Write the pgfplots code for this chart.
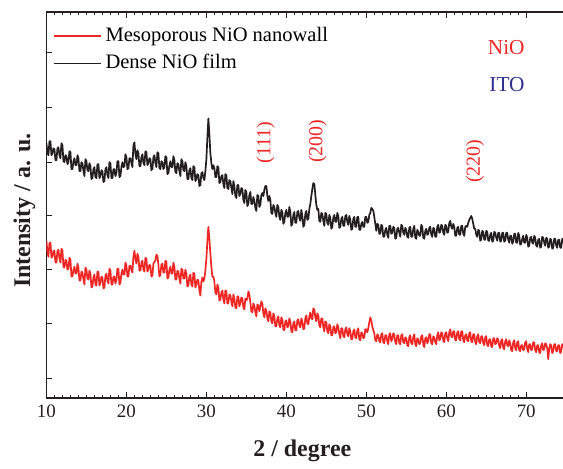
\documentclass[border=0pt]{standalone}
\usepackage{fontspec}
\setmainfont{Liberation Serif}
\usepackage{pgfplots}
\pgfplotsset{compat=1.18}

\definecolor{nioRed}{HTML}{ED2824}
\definecolor{inkBlack}{HTML}{231F20}
\definecolor{itoBlue}{HTML}{2E3192}

\begin{document}
\begin{tikzpicture}
\begin{axis}[
    scale only axis,
    width=264.6pt, height=193.5pt,
    xmin=10, xmax=76,
    ymin=0, ymax=388,
    xtick={10,20,...,70},
    minor x tick num=9,
    ytick={20,75,129,183,237,292,347},
    yticklabels={},
    ytick pos=left,
    tick align=inside,
    major tick length=3pt,
    minor tick length=1.6pt,
    every tick/.style={inkBlack, line width=0.5pt},
    axis line style={inkBlack, line width=0.6pt},
    /pgf/number format/assume math mode=true,
    ticklabel style={font=\fontsize{9.5}{11}\selectfont, text=inkBlack},
    xlabel={2 / degree},
    ylabel={Intensity / a. u.},
    label style={font=\fontsize{12}{14}\selectfont\bfseries, text=inkBlack},
    xlabel style={at={(axis cs:42,0)}, anchor=center, yshift=-26.5pt},
    ylabel style={at={(axis description cs:0,0.485)}, anchor=center, yshift=11pt},
    legend style={draw=none, fill=none, at={(axis cs:10.55,379)}, anchor=north west,
        font=\fontsize{10.3}{12.4}\selectfont, row sep=1pt, inner sep=1pt},
    legend cell align=left,
    legend image code/.code={\draw[#1, line width=0.7pt] (0pt,0pt) -- (23.5pt,0pt);},
]
% mesoporous NiO nanowall
\addplot[color=nioRed, line width=0.85pt, line join=round] coordinates {
(10.00,158)(10.125,146)(10.25,142)(10.375,156)(10.50,156)(10.625,141)(10.75,142)(10.875,148)
(11.00,148)(11.125,136)(11.25,136)(11.375,148)(11.50,149)(11.625,140)(11.75,136)(11.875,150)
(12.00,148)(12.125,132)(12.25,131)(12.375,139)(12.50,138)(12.625,129)(12.75,130)(12.875,141)
(13.00,139)(13.125,122)(13.25,122)(13.375,129)(13.50,132)(13.625,125)(13.75,125)(13.875,135)
(14.00,131)(14.125,118)(14.25,118)(14.375,127)(14.50,126)(14.625,119)(14.75,114)(14.875,131)
(15.00,129)(15.125,120)(15.25,119)(15.375,128)(15.50,125)(15.625,111)(15.75,112)(15.875,121)
(16.00,124)(16.125,114)(16.25,113)(16.375,127)(16.50,127)(16.625,113)(16.75,116)(16.875,122)
(17.00,121)(17.125,110)(17.25,111)(17.375,123)(17.50,125)(17.625,118)(17.75,115)(17.875,130)
(18.00,128)(18.125,114)(18.25,114)(18.375,122)(18.50,122)(18.625,115)(18.75,118)(18.875,130)
(19.00,130)(19.125,114)(19.25,116)(19.375,125)(19.50,129)(19.625,124)(19.75,124)(19.875,136)
(20.00,133)(20.125,122)(20.25,122)(20.375,133)(20.50,133)(20.625,129)(20.75,126)(20.875,142)
(21.00,148)(21.125,140)(21.25,135)(21.375,145)(21.50,142)(21.625,128)(21.75,128)(21.875,136)
(22.00,138)(22.125,129)(22.25,127)(22.375,141)(22.50,140)(22.625,127)(22.75,129)(22.875,134)
(23.00,133)(23.125,122)(23.25,123)(23.375,135)(23.50,137)(23.625,138)(23.75,144)(23.875,143)
(24.00,134)(24.125,122)(24.25,124)(24.375,134)(24.50,135)(24.625,126)(24.75,126)(24.875,138)
(25.00,137)(25.125,120)(25.25,121)(25.375,129)(25.50,132)(25.625,125)(25.75,125)(25.875,136)
(26.00,132)(26.125,119)(26.25,119)(26.375,128)(26.50,127)(26.625,120)(26.75,115)(26.875,130)
(27.00,129)(27.125,120)(27.25,120)(27.375,129)(27.50,125)(27.625,112)(27.75,113)(27.875,122)
(28.00,124)(28.125,114)(28.25,112)(28.375,126)(28.50,125)(28.625,111)(28.75,114)(28.875,119)
(29.00,118)(29.125,108)(29.25,103)(29.375,117)(29.50,121)(29.625,117)(29.75,120)(29.875,128)
(30.00,140)(30.125,158)(30.25,172)(30.375,160)(30.50,145)(30.625,132)(30.75,122)(30.875,122)
(31.00,117)(31.125,106)(31.25,104)(31.375,114)(31.50,111)(31.625,98)(31.75,99)(31.875,106)
(32.00,108)(32.125,99)(32.25,95)(32.375,108)(32.50,107)(32.625,95)(32.75,95)(32.875,104)
(33.00,103)(33.125,97)(33.25,92)(33.375,104)(33.50,100)(33.625,91)(33.75,90)(33.875,102)
(34.00,102)(34.125,92)(34.25,95)(34.375,101)(34.50,100)(34.625,91)(34.75,89)(34.875,100)
(35.00,98)(35.125,100)(35.25,107)(35.375,104)(35.50,96)(35.625,87)(35.75,86)(35.875,95)
(36.00,93)(36.125,86)(36.25,82)(36.375,94)(36.50,93)(36.625,87)(36.75,92)(36.875,97)
(37.00,95)(37.125,85)(37.25,81)(37.375,90)(37.50,88)(37.625,80)(37.75,77)(37.875,87)
(38.00,86)(38.125,77)(38.25,75)(38.375,85)(38.50,82)(38.625,72)(38.75,72)(38.875,80)
(39.00,82)(39.125,73)(39.25,71)(39.375,81)(39.50,79)(39.625,69)(39.75,68)(39.875,77)
(40.00,78)(40.125,71)(40.25,72)(40.375,80)(40.50,77)(40.625,67)(40.75,66)(40.875,75)
(41.00,77)(41.125,68)(41.25,68)(41.375,78)(41.50,79)(41.625,73)(41.75,71)(41.875,80)
(42.00,77)(42.125,69)(42.25,70)(42.375,80)(42.50,83)(42.625,75)(42.75,74)(42.875,82)
(43.00,86)(43.125,80)(43.25,79)(43.375,90)(43.50,89)(43.625,81)(43.75,77)(43.875,85)
(44.00,83)(44.125,73)(44.25,71)(44.375,80)(44.50,80)(44.625,71)(44.75,67)(44.875,77)
(45.00,76)(45.125,67)(45.25,65)(45.375,74)(45.50,72)(45.625,63)(45.75,63)(45.875,71)
(46.00,72)(46.125,65)(46.25,66)(46.375,74)(46.50,71)(46.625,64)(46.75,60)(46.875,70)
(47.00,70)(47.125,62)(47.25,61)(47.375,69)(47.50,71)(47.625,64)(47.75,62)(47.875,70)
(48.00,67)(48.125,59)(48.25,59)(48.375,67)(48.50,69)(48.625,61)(48.75,60)(48.875,68)
(49.00,70)(49.125,59)(49.25,58)(49.375,66)(49.50,65)(49.625,60)(49.75,61)(49.875,69)
(50.00,69)(50.125,66)(50.25,70)(50.375,76)(50.50,81)(50.625,78)(50.75,72)(50.875,68)
(51.00,65)(51.125,58)(51.25,57)(51.375,64)(51.50,63)(51.625,57)(51.75,56)(51.875,64)
(52.00,65)(52.125,56)(52.25,55)(52.375,63)(52.50,63)(52.625,57)(52.75,54)(52.875,64)
(53.00,65)(53.125,57)(53.25,59)(53.375,65)(53.50,64)(53.625,56)(53.75,54)(53.875,63)
(54.00,63)(54.125,55)(54.25,54)(54.375,63)(54.50,64)(54.625,56)(54.75,55)(54.875,61)
(55.00,60)(55.125,53)(55.25,52)(55.375,61)(55.50,63)(55.625,55)(55.75,54)(55.875,61)
(56.00,64)(56.125,54)(56.25,52)(56.375,60)(56.50,59)(56.625,54)(56.75,55)(56.875,62)
(57.00,63)(57.125,54)(57.25,51)(57.375,60)(57.50,61)(57.625,55)(57.75,57)(57.875,64)
(58.00,64)(58.125,55)(58.25,54)(58.375,62)(58.50,61)(58.625,56)(58.75,54)(58.875,63)
(59.00,66)(59.125,58)(59.25,59)(59.375,66)(59.50,65)(59.625,58)(59.75,56)(59.875,65)
(60.00,66)(60.125,60)(60.25,57)(60.375,66)(60.50,69)(60.625,62)(60.75,61)(60.875,67)
(61.00,67)(61.125,58)(61.25,58)(61.375,66)(61.50,67)(61.625,59)(61.75,58)(61.875,67)
(62.00,67)(62.125,58)(62.25,56)(62.375,63)(62.50,64)(62.625,58)(62.75,57)(62.875,65)
(63.00,66)(63.125,57)(63.25,56)(63.375,64)(63.50,64)(63.625,56)(63.75,54)(63.875,62)
(64.00,64)(64.125,56)(64.25,55)(64.375,62)(64.50,62)(64.625,55)(64.75,53)(64.875,61)
(65.00,62)(65.125,53)(65.25,52)(65.375,59)(65.50,59)(65.625,52)(65.75,51)(65.875,60)
(66.00,60)(66.125,54)(66.25,55)(66.375,60)(66.50,59)(66.625,52)(66.75,50)(66.875,58)
(67.00,59)(67.125,50)(67.25,49)(67.375,57)(67.50,59)(67.625,53)(67.75,52)(67.875,58)
(68.00,55)(68.125,48)(68.25,47)(68.375,56)(68.50,58)(68.625,50)(68.75,48)(68.875,56)
(69.00,57)(69.125,48)(69.25,47)(69.375,53)(69.50,53)(69.625,48)(69.75,49)(69.875,56)
(70.00,57)(70.125,49)(70.25,46)(70.375,54)(70.50,54)(70.625,48)(70.75,49)(70.875,56)
(71.00,56)(71.125,48)(71.25,46)(71.375,53)(71.50,53)(71.625,46)(71.75,45)(71.875,53)
(72.00,55)(72.125,48)(72.25,49)(72.375,55)(72.50,54)(72.625,50)(72.75,39)(72.875,49)
(73.00,54)(73.125,53)(73.25,45)(73.375,47)(73.50,54)(73.625,54)(73.75,47)(73.875,47)
(74.00,53)(74.125,53)(74.25,45)(74.375,47)(74.50,54)(74.625,54)(74.75,48)
};
\addlegendentry{Mesoporous NiO nanowall}
% dense NiO film
\addplot[color=inkBlack, line width=0.85pt, line join=round] coordinates {
(10.00,256)(10.125,246)(10.25,244)(10.375,258)(10.50,258)(10.625,244)(10.75,246)(10.875,251)
(11.00,250)(11.125,239)(11.25,239)(11.375,251)(11.50,252)(11.625,244)(11.75,241)(11.875,256)
(12.00,254)(12.125,238)(12.25,237)(12.375,244)(12.50,243)(12.625,235)(12.75,237)(12.875,248)
(13.00,247)(13.125,230)(13.25,230)(13.375,238)(13.50,241)(13.625,234)(13.75,234)(13.875,244)
(14.00,241)(14.125,228)(14.25,228)(14.375,237)(14.50,236)(14.625,228)(14.75,223)(14.875,240)
(15.00,238)(15.125,229)(15.25,228)(15.375,236)(15.50,233)(15.625,220)(15.75,221)(15.875,230)
(16.00,232)(16.125,222)(16.25,221)(16.375,235)(16.50,235)(16.625,221)(16.75,223)(16.875,229)
(17.00,228)(17.125,217)(17.25,218)(17.375,230)(17.50,232)(17.625,224)(17.75,221)(17.875,237)
(18.00,236)(18.125,221)(18.25,221)(18.375,230)(18.50,230)(18.625,223)(18.75,226)(18.875,238)
(19.00,238)(19.125,222)(19.25,223)(19.375,232)(19.50,237)(19.625,232)(19.75,233)(19.875,245)
(20.00,242)(20.125,230)(20.25,231)(20.375,241)(20.50,241)(20.625,236)(20.75,232)(20.875,254)
(21.00,257)(21.125,245)(21.25,240)(21.375,249)(21.50,246)(21.625,233)(21.75,233)(21.875,242)
(22.00,245)(22.125,236)(22.25,234)(22.375,248)(22.50,247)(22.625,234)(22.75,236)(22.875,241)
(23.00,240)(23.125,229)(23.25,230)(23.375,242)(23.50,244)(23.625,236)(23.75,232)(23.875,247)
(24.00,246)(24.125,231)(24.25,230)(24.375,238)(24.50,237)(24.625,230)(24.75,232)(24.875,243)
(25.00,242)(25.125,225)(25.25,226)(25.375,234)(25.50,238)(25.625,232)(25.75,232)(25.875,243)
(26.00,239)(26.125,227)(26.25,226)(26.375,236)(26.50,235)(26.625,228)(26.75,223)(26.875,240)
(27.00,238)(27.125,229)(27.25,228)(27.375,237)(27.50,233)(27.625,220)(27.75,220)(27.875,229)
(28.00,231)(28.125,221)(28.25,219)(28.375,233)(28.50,232)(28.625,218)(28.75,220)(28.875,225)
(29.00,224)(29.125,213)(29.25,214)(29.375,226)(29.50,227)(29.625,221)(29.75,219)(29.875,228)
(30.00,240)(30.125,262)(30.25,281)(30.375,265)(30.50,246)(30.625,236)(30.75,230)(30.875,234)
(31.00,231)(31.125,222)(31.25,222)(31.375,233)(31.50,232)(31.625,216)(31.75,217)(31.875,223)
(32.00,224)(32.125,215)(32.25,211)(32.375,225)(32.50,224)(32.625,211)(32.75,210)(32.875,219)
(33.00,218)(33.125,211)(33.25,205)(33.375,218)(33.50,213)(33.625,203)(33.75,201)(33.875,214)
(34.00,214)(34.125,203)(34.25,205)(34.375,211)(34.50,210)(34.625,199)(34.75,196)(34.875,209)
(35.00,207)(35.125,193)(35.25,195)(35.375,204)(35.50,207)(35.625,195)(35.75,195)(35.875,202)
(36.00,198)(36.125,191)(36.25,188)(36.375,204)(36.50,203)(36.625,192)(36.75,194)(36.875,204)
(37.00,206)(37.125,203)(37.25,209)(37.375,213)(37.50,213)(37.625,203)(37.75,198)(37.875,203)
(38.00,199)(38.125,186)(38.25,185)(38.375,194)(38.50,192)(38.625,186)(38.75,182)(38.875,194)
(39.00,192)(39.125,182)(39.25,179)(39.375,189)(39.50,187)(39.625,175)(39.75,177)(39.875,186)
(40.00,189)(40.125,182)(40.25,182)(40.375,192)(40.50,187)(40.625,173)(40.75,175)(40.875,184)
(41.00,187)(41.125,176)(41.25,176)(41.375,187)(41.50,188)(41.625,181)(41.75,178)(41.875,189)
(42.00,183)(42.125,172)(42.25,174)(42.375,185)(42.50,188)(42.625,179)(42.75,180)(42.875,190)
(43.00,195)(43.125,203)(43.25,210)(43.375,216)(43.50,215)(43.625,204)(43.75,194)(43.875,189)
(44.00,190)(44.125,178)(44.25,177)(44.375,186)(44.50,185)(44.625,178)(44.75,173)(44.875,186)
(45.00,185)(45.125,176)(45.25,174)(45.375,184)(45.50,181)(45.625,170)(45.75,172)(45.875,181)
(46.00,184)(46.125,177)(46.25,177)(46.375,186)(46.50,183)(46.625,171)(46.75,172)(46.875,180)
(47.00,182)(47.125,173)(47.25,173)(47.375,183)(47.50,184)(47.625,177)(47.75,174)(47.875,183)
(48.00,179)(48.125,169)(48.25,170)(48.375,180)(48.50,182)(48.625,172)(48.75,172)(48.875,182)
(49.00,182)(49.125,169)(49.25,169)(49.375,175)(49.50,177)(49.625,172)(49.75,172)(49.875,182)
(50.00,182)(50.125,176)(50.25,177)(50.375,184)(50.50,186)(50.625,191)(50.75,190)(50.875,188)
(51.00,182)(51.125,175)(51.25,168)(51.375,175)(51.50,174)(51.625,165)(51.75,165)(51.875,174)
(52.00,173)(52.125,162)(52.25,162)(52.375,169)(52.50,171)(52.625,164)(52.75,161)(52.875,173)
(53.00,173)(53.125,165)(53.25,166)(53.375,172)(53.50,171)(53.625,160)(53.75,161)(53.875,170)
(54.00,171)(54.125,166)(54.25,162)(54.375,174)(54.50,173)(54.625,166)(54.75,164)(54.875,171)
(55.00,169)(55.125,162)(55.25,161)(55.375,171)(55.50,172)(55.625,162)(55.75,162)(55.875,170)
(56.00,173)(56.125,161)(56.25,160)(56.375,169)(56.50,167)(56.625,163)(56.75,163)(56.875,174)
(57.00,172)(57.125,161)(57.25,160)(57.375,168)(57.50,170)(57.625,164)(57.75,165)(57.875,171)
(58.00,172)(58.125,164)(58.25,162)(58.375,171)(58.50,170)(58.625,162)(58.75,162)(58.875,172)
(59.00,174)(59.125,166)(59.25,167)(59.375,174)(59.50,173)(59.625,166)(59.75,164)(59.875,174)
(60.00,173)(60.125,166)(60.25,167)(60.375,176)(60.50,178)(60.625,172)(60.75,170)(60.875,175)
(61.00,172)(61.125,163)(61.25,163)(61.375,171)(61.50,172)(61.625,164)(61.75,164)(61.875,173)
(62.00,173)(62.125,165)(62.25,163)(62.375,172)(62.50,173)(62.625,172)(62.75,176)(62.875,179)
(63.00,181)(63.125,183)(63.25,180)(63.375,175)(63.50,170)(63.625,170)(63.75,164)(63.875,162)
(64.00,169)(64.125,168)(64.25,158)(64.375,159)(64.50,168)(64.625,167)(64.75,159)(64.875,159)
(65.00,168)(65.125,167)(65.25,158)(65.375,158)(65.50,164)(65.625,166)(65.75,157)(65.875,158)
(66.00,167)(66.125,166)(66.25,161)(66.375,158)(66.50,166)(66.625,166)(66.75,157)(66.875,158)
(67.00,166)(67.125,166)(67.25,157)(67.375,158)(67.50,166)(67.625,166)(67.75,159)(67.875,156)
(68.00,163)(68.125,163)(68.25,155)(68.375,157)(68.50,165)(68.625,165)(68.75,156)(68.875,156)
(69.00,166)(69.125,163)(69.25,154)(69.375,155)(69.50,160)(69.625,163)(69.75,156)(69.875,156)
(70.00,164)(70.125,161)(70.25,152)(70.375,153)(70.50,161)(70.625,162)(70.75,156)(70.875,155)
(71.00,163)(71.125,161)(71.25,153)(71.375,152)(71.50,159)(71.625,160)(71.75,151)(71.875,152)
(72.00,162)(72.125,161)(72.25,156)(72.375,153)(72.50,161)(72.625,160)(72.75,151)(72.875,152)
(73.00,160)(73.125,159)(73.25,150)(73.375,151)(73.50,160)(73.625,160)(73.75,153)(73.875,151)
(74.00,159)(74.125,159)(74.25,151)(74.375,151)(74.50,160)(74.625,159)(74.75,154)
};
\addlegendentry{Dense NiO film}

\node[text=nioRed, font=\fontsize{10.7}{12}\selectfont] at (axis cs:67.5,352) {NiO};
\node[text=itoBlue, font=\fontsize{10.7}{12}\selectfont] at (axis cs:67.6,315) {ITO};
\node[text=nioRed, rotate=90, font=\fontsize{10}{12}\selectfont] at (axis cs:37.4,257) {(111)};
\node[text=nioRed, rotate=90, font=\fontsize{10}{12}\selectfont] at (axis cs:43.9,258) {(200)};
\node[text=nioRed, rotate=90, font=\fontsize{10}{12}\selectfont] at (axis cs:63.6,238) {(220)};
\coordinate (R) at (axis cs:74.6,388);
\end{axis}
\coordinate (BL) at (current bounding box.south west);
\pgfresetboundingbox
\path[use as bounding box] ([xshift=-3.5pt]BL) rectangle ([yshift=6pt]R);
\end{tikzpicture}
\end{document}
